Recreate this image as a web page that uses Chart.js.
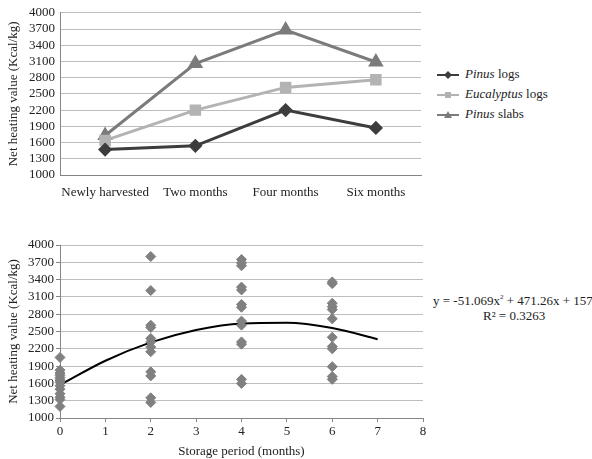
<!DOCTYPE html>
<html>
<head>
<meta charset="utf-8">
<script src="https://cdn.jsdelivr.net/npm/chart.js@4.4.1/dist/chart.umd.min.js"></script>
<style>
  body { margin: 0; width: 592px; height: 459px; overflow: hidden; background: #fff; position: relative; font-family: "Liberation Serif", serif; color: #222; }
  .box { position: absolute; }
  #legend { position: absolute; left: 437px; top: 66px; font-size: 13px; }
  #legend div { height: 20px; line-height: 16px; white-space: nowrap; }
  #legend svg { vertical-align: middle; margin-right: 6px; }
  #eq { position: absolute; left: 433px; top: 290px; font-size: 13px; white-space: nowrap; line-height: 15px; }
</style>
</head>
<body>
<div class="box" style="left:0;top:0;width:430px;height:200px"><canvas id="graficoTipos" width="430" height="200"></canvas></div>
<div class="box" style="left:0;top:230px;width:430px;height:229px"><canvas id="graficoPeriodo" width="430" height="229"></canvas></div>

<div id="legend">
  <div><svg width="22" height="10"><line x1="0" y1="5" x2="22" y2="5" stroke="#3d3d3d" stroke-width="2"/><polygon points="11,1 15,5 11,9 7,5" fill="#3d3d3d"/></svg><i>Pinus</i> logs</div>
  <div><svg width="22" height="10"><line x1="0" y1="5" x2="22" y2="5" stroke="#b3b3b3" stroke-width="2"/><rect x="8" y="2" width="6" height="6" fill="#b3b3b3"/></svg><i>Eucalyptus</i> logs</div>
  <div><svg width="22" height="10"><line x1="0" y1="5" x2="22" y2="5" stroke="#7b7b7b" stroke-width="2"/><polygon points="11,1 15,8 7,8" fill="#7b7b7b"/></svg><i>Pinus</i> slabs</div>
</div>
<div id="eq">y = -51.069x<sup style="font-size:7px;vertical-align:6px">2</sup> + 471.26x + 1573<br><span style="margin-left:50px">R² = 0.3263</span></div>

<script>
const fuente = { family: '"Liberation Serif", serif', size: 13 };
const colorTexto = '#222';
const colorGrid = '#bdbdbd';
const colorEje = '#858585';

// grafico superior
const periodos = ['Newly harvested', 'Two months', 'Four months', 'Six months'];
const pinusLogs = [1470, 1540, 2200, 1870];
const eucalyptusLogs = [1640, 2200, 2620, 2760];
const pinusSlabs = [1730, 3060, 3680, 3090];

// grafico inferior (dispersion por mes)
const mesesX = [
  0, 0, 0, 0, 0, 0, 0, 0, 0, 0, 0, 0, 0,
  2, 2, 2, 2, 2, 2, 2, 2, 2, 2, 2, 2,
  4, 4, 4, 4, 4, 4, 4, 4, 4, 4, 4, 4, 4,
  6, 6, 6, 6, 6, 6, 6, 6, 6, 6, 6, 6
];
const valoresY = [
  2050, 1830, 1780, 1740, 1700, 1660, 1620, 1560, 1500, 1420, 1360, 1320, 1200,
  3800, 3210, 2610, 2570, 2380, 2320, 2230, 2150, 1800, 1730, 1350, 1270,
  3750, 3690, 3640, 3270, 3220, 2970, 2920, 2680, 2610, 2320, 2280, 1670, 1600,
  3360, 3330, 2990, 2930, 2880, 2720, 2400, 2240, 2200, 1890, 1720, 1670
];
const trendX = [0, 1, 2, 3, 4, 5, 6, 7];
const trendY = [1573, 1993, 2311, 2527, 2640, 2651, 2560, 2367];

const yTicks = { min: 1000, max: 4000, stepSize: 300 };

function ejeY(conMarcas) {
  return {
    min: yTicks.min,
    max: yTicks.max,
    afterFit: (s) => { s.width = 60; },
    ticks: {
      stepSize: yTicks.stepSize,
      autoSkip: false,
      callback: (v) => String(v),
      color: colorTexto,
      font: fuente,
      padding: conMarcas ? 2 : 5
    },
    grid: { color: colorGrid, lineWidth: 1, drawTicks: conMarcas, tickLength: 4, tickColor: colorEje },
    border: { color: colorEje, width: 1 },
    title: { display: true, text: 'Net heating value (Kcal/kg)', color: colorTexto, font: fuente, padding: { top: 6, bottom: 0 } }
  };
}

new Chart(document.getElementById('graficoTipos'), {
  type: 'line',
  data: {
    labels: periodos,
    datasets: [
      { label: 'Pinus logs', data: pinusLogs, borderColor: '#3d3d3d', backgroundColor: '#3d3d3d', borderWidth: 3, pointStyle: 'rectRot', pointRadius: 5 },
      { label: 'Eucalyptus logs', data: eucalyptusLogs, borderColor: '#b3b3b3', backgroundColor: '#b3b3b3', borderWidth: 3, pointStyle: 'rect', pointRadius: 6 },
      { label: 'Pinus slabs', data: pinusSlabs, borderColor: '#7b7b7b', backgroundColor: '#7b7b7b', borderWidth: 3, pointStyle: 'triangle', pointRadius: 6 }
    ]
  },
  options: {
    responsive: false,
    animation: false,
    layout: { padding: { top: 10, right: 7 } },
    plugins: { legend: { display: false }, tooltip: { enabled: false } },
    scales: {
      x: {
        offset: true,
        afterFit: (s) => { s.height = 25; },
        ticks: { color: colorTexto, font: fuente, padding: 2, maxRotation: 0, autoSkip: false },
        grid: { display: false },
        border: { color: colorEje, width: 1 }
      },
      y: ejeY(false)
    }
  }
});

new Chart(document.getElementById('graficoPeriodo'), {
  type: 'scatter',
  data: {
    datasets: [
      {
        label: 'Net heating value',
        data: mesesX.map((x, i) => ({ x, y: valoresY[i] })),
        backgroundColor: '#808080',
        borderColor: '#808080',
        pointStyle: 'rectRot',
        pointRadius: 5,
        clip: false
      },
      {
        type: 'line',
        label: 'Poly. (Net heating value)',
        data: trendX.map((x, i) => ({ x, y: trendY[i] })),
        borderColor: '#000',
        borderWidth: 2,
        pointRadius: 0,
        cubicInterpolationMode: 'monotone'
      }
    ]
  },
  options: {
    responsive: false,
    animation: false,
    layout: { padding: { top: 15, right: 7 } },
    plugins: { legend: { display: false }, tooltip: { enabled: false } },
    scales: {
      x: {
        type: 'linear',
        min: 0,
        max: 8,
        afterFit: (s) => { s.height = 41; },
        ticks: { stepSize: 1, color: colorTexto, font: fuente, padding: 2 },
        grid: { drawOnChartArea: false, drawTicks: true, tickLength: 4, color: colorEje },
        border: { color: colorEje, width: 1 },
        title: { display: true, text: 'Storage period (months)', color: colorTexto, font: fuente, padding: { top: 1, bottom: 0 } }
      },
      y: ejeY(true)
    }
  }
});
</script>
</body>
</html>
